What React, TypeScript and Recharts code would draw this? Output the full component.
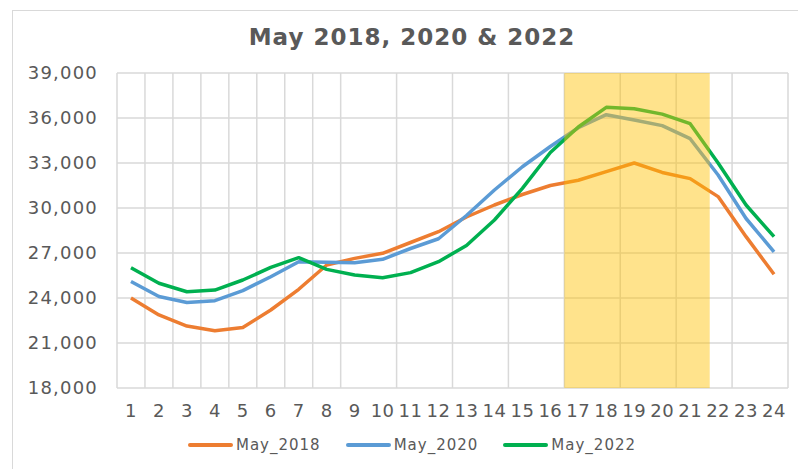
import { LineChart, Line, XAxis, YAxis, CartesianGrid, Legend, ReferenceArea } from "recharts";

const HOURS = [1, 2, 3, 4, 5, 6, 7, 8, 9, 10, 11, 12, 13, 14, 15, 16, 17, 18, 19, 20, 21, 22, 23, 24];
const MAY_2018 = [24000, 22870, 22130, 21820, 22040, 23200, 24580, 26200, 26640, 26980, 27700, 28420, 29400, 30200, 30900, 31500, 31850, 32420, 33000, 32370, 31960, 30760, 28090, 25580];
const MAY_2020 = [25100, 24100, 23700, 23820, 24490, 25420, 26420, 26380, 26350, 26580, 27300, 27950, 29500, 31200, 32750, 34100, 35350, 36220, 35870, 35490, 34620, 32200, 29300, 27080];
const MAY_2022 = [26020, 24980, 24420, 24530, 25200, 26040, 26690, 25910, 25530, 25350, 25690, 26420, 27500, 29200, 31310, 33700, 35400, 36710, 36620, 36260, 35620, 33000, 30200, 28090];
const Y_TICKS = [18000, 21000, 24000, 27000, 30000, 33000, 36000, 39000];
const GRID_X = [0.5, ...HOURS.map(h => h + 0.5)];
const PEAK_FROM = 16.5;
const PEAK_TO = 21.7;

const SERIES = [
  { key: "may2018", name: "May_2018", color: "#ED7D31" },
  { key: "may2020", name: "May_2020", color: "#5B9BD5" },
  { key: "may2022", name: "May_2022", color: "#00B050" },
];

const data = HOURS.map((hour, i) => ({
  hour,
  may2018: MAY_2018[i],
  may2020: MAY_2020[i],
  may2022: MAY_2022[i],
}));

const FONT = "'DejaVu Sans', sans-serif";
const TEXT = "#595959";

const LegendContent = () => (
  <div style={{ display: "flex", justifyContent: "center", alignItems: "center", height: 24, gap: 25 }}>
    {SERIES.map(s => (
      <div key={s.key} style={{ display: "flex", alignItems: "center", gap: 3 }}>
        <span style={{ display: "inline-block", width: 45, height: 4, borderRadius: 2, background: s.color }} />
        <span style={{ fontSize: 15, letterSpacing: 1, color: TEXT, fontFamily: FONT }}>{s.name}</span>
      </div>
    ))}
  </div>
);

export default function App() {
  return (
    <div style={{ position: "fixed", left: 0, top: 0, width: 798, height: 469, overflow: "hidden", background: "#fff", fontFamily: FONT }}>
      <div style={{ position: "absolute", left: 12, top: 10, width: 800, height: 460, border: "1px solid #D9D9D9", boxSizing: "border-box" }} />
      <div style={{ position: "absolute", left: 12, top: 10, width: 800, height: 460 }}>
        <div style={{ position: "absolute", top: 12, left: 0, width: "100%", textAlign: "center", fontSize: 23, lineHeight: "30px", fontWeight: "bold", color: TEXT, letterSpacing: 1 }}>
          May 2018, 2020 &amp; 2022
        </div>
        <LineChart width={800} height={460} data={data} margin={{ top: 63, right: 24, bottom: 28, left: 0 }}>
          <CartesianGrid xAxisId="grid" stroke="#D9D9D9" strokeWidth={1.5} />
          <XAxis xAxisId="grid" type="number" dataKey="hour" domain={[0.5, 24.5]} ticks={GRID_X} hide />
          <XAxis
            type="number"
            dataKey="hour"
            domain={[0.5, 24.5]}
            ticks={HOURS}
            interval={0}
            tickLine={false}
            axisLine={false}
            tickMargin={10}
            height={30}
            tick={{ fontSize: 18, fill: TEXT, fontFamily: FONT, letterSpacing: 0.5 }}
          />
          <YAxis
            domain={[18000, 39000]}
            ticks={Y_TICKS}
            width={105}
            tickLine={false}
            axisLine={false}
            tickMargin={13}
            tick={{ fontSize: 18, fill: TEXT, fontFamily: FONT, letterSpacing: 1.2 }}
            tickFormatter={v => v.toLocaleString("en-US")}
          />
          {SERIES.map(s => (
            <Line
              key={s.key}
              type="linear"
              dataKey={s.key}
              name={s.name}
              stroke={s.color}
              strokeWidth={3.5}
              strokeLinejoin="round"
              dot={false}
              isAnimationActive={false}
            />
          ))}
          <ReferenceArea x1={PEAK_FROM} x2={PEAK_TO} fill="#FFC000" fillOpacity={0.45} stroke="none" zIndex={1000} />
          <Legend content={<LegendContent />} wrapperStyle={{ top: 423, left: 0, width: 800 }} />
        </LineChart>
      </div>
    </div>
  );
}
